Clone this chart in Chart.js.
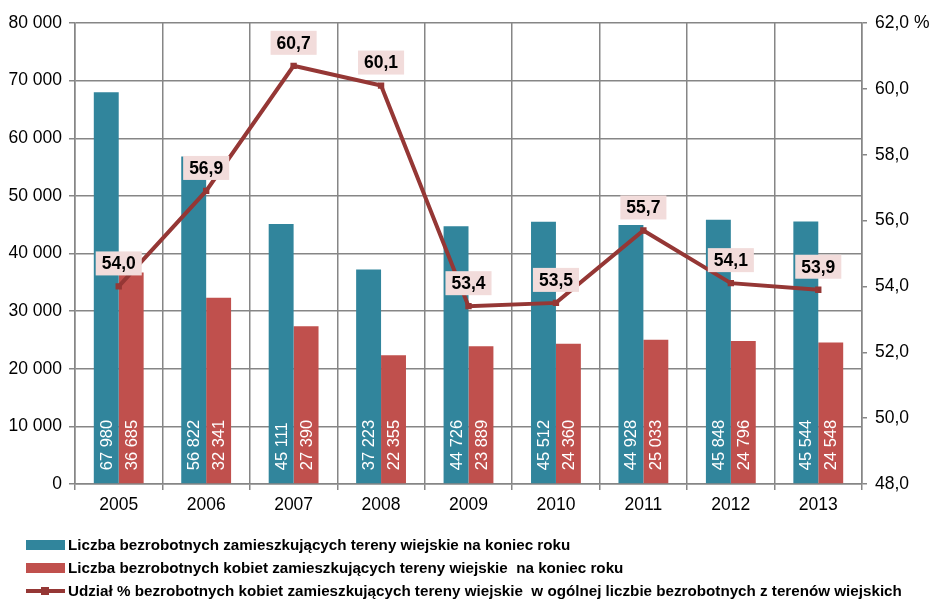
<!DOCTYPE html>
<html>
<head>
<meta charset="utf-8">
<script src="https://cdn.jsdelivr.net/npm/chart.js@4.4.1/dist/chart.umd.min.js"></script>
<style>
  html, body { margin: 0; padding: 0; background: #fff; }
  #wrap { width: 932px; height: 599px; }
</style>
</head>
<body>
<div id="wrap"><canvas id="chart" width="932" height="599"></canvas></div>
<script>
// dane z wykresu
const years = ["2005", "2006", "2007", "2008", "2009", "2010", "2011", "2012", "2013"];
const ogolem = [67980, 56822, 45111, 37223, 44726, 45512, 44928, 45848, 45544];
const kobiety = [36685, 32341, 27390, 22355, 23889, 24360, 25033, 24796, 24548];
const udzial = [54.0, 56.9, 60.7, 60.1, 53.4, 53.5, 55.7, 54.1, 53.9];
const leftTicks = [0, 10000, 20000, 30000, 40000, 50000, 60000, 70000, 80000];
const rightTicks = [48, 50, 52, 54, 56, 58, 60, 62];

const labels = [
  "Liczba bezrobotnych zamieszkujących tereny wiejskie na koniec roku",
  "Liczba bezrobotnych kobiet zamieszkujących tereny wiejskie  na koniec roku",
  "Udział % bezrobotnych kobiet zamieszkujących tereny wiejskie  w ogólnej liczbie bezrobotnych z terenów wiejskich"
];

const TEAL = "#31859c";
const RED = "#c0504d";
const LINE = "#953735";
const FONT = "'Liberation Sans', Arial, sans-serif";

const fmt = (v) => String(v).replace(/\B(?=(\d{3})+(?!\d))/g, "\u00a0");
const fmtPct = (v) => v.toFixed(1).replace(".", ",");

// ---------- etykiety danych ----------
const valueLabels = {
  id: "valueLabels",
  afterDatasetsDraw(chart) {
    const ctx = chart.ctx;
    ctx.save();
    chart.data.datasets.forEach((ds, di) => {
      const meta = chart.getDatasetMeta(di);
      if (ds.type === "bar") {
        ctx.font = "16.5px " + FONT;
        ctx.fillStyle = "#fff";
        ctx.textAlign = "left";
        ctx.textBaseline = "middle";
        meta.data.forEach((el, i) => {
          ctx.save();
          ctx.translate(el.x, el.base - 13);
          ctx.rotate(-Math.PI / 2);
          ctx.fillText(fmt(ds.data[i]), 0, 1);
          ctx.restore();
        });
      } else {
        ctx.font = "bold 17.5px " + FONT;
        ctx.textAlign = "center";
        ctx.textBaseline = "middle";
        meta.data.forEach((el, i) => {
          const txt = fmtPct(ds.data[i]);
          const w = ctx.measureText(txt).width + 12;
          const h = 24;
          const cy = el.y - 23;
          ctx.fillStyle = "#f2dcdb";
          ctx.fillRect(el.x - w / 2, cy - h / 2, w, h);
          ctx.fillStyle = "#000";
          ctx.fillText(txt, el.x, cy + 1);
        });
      }
    });
    ctx.restore();
  }
};

// ---------- legenda (jeden wpis w wierszu) ----------
const rowLegend = {
  id: "rowLegend",
  afterDraw(chart) {
    const ctx = chart.ctx;
    const rows = [545, 568, 591];
    ctx.save();
    ctx.font = "bold 15.2px " + FONT;
    ctx.textAlign = "left";
    ctx.textBaseline = "middle";
    chart.data.datasets.forEach((ds, i) => {
      const y = rows[i];
      if (ds.type === "bar") {
        ctx.fillStyle = ds.backgroundColor;
        ctx.fillRect(26, y - 5, 39, 10);
      } else {
        ctx.strokeStyle = ds.borderColor;
        ctx.lineWidth = 4;
        ctx.beginPath();
        ctx.moveTo(26, y);
        ctx.lineTo(65, y);
        ctx.stroke();
        ctx.fillStyle = ds.borderColor;
        ctx.fillRect(41, y - 4, 8, 8);
      }
      ctx.fillStyle = "#000";
      ctx.fillText(ds.label, 68, y + 1);
    });
    ctx.restore();
  }
};

const ctx = document.getElementById("chart").getContext("2d");
new Chart(ctx, {
  data: {
    labels: years,
    datasets: [
      {
        type: "bar",
        label: labels[0],
        data: ogolem,
        backgroundColor: TEAL,
        yAxisID: "y",
        order: 2,
        categoryPercentage: 0.57,
        barPercentage: 1
      },
      {
        type: "bar",
        label: labels[1],
        data: kobiety,
        backgroundColor: RED,
        yAxisID: "y",
        order: 2,
        categoryPercentage: 0.57,
        barPercentage: 1
      },
      {
        type: "line",
        label: labels[2],
        data: udzial,
        borderColor: LINE,
        backgroundColor: LINE,
        borderWidth: 4,
        pointStyle: "rect",
        pointRadius: 4.5,
        pointBackgroundColor: LINE,
        pointBorderWidth: 0,
        tension: 0,
        yAxisID: "y1",
        order: 1
      }
    ]
  },
  options: {
    responsive: false,
    animation: false,
    layout: { padding: { top: 23, bottom: 75, left: 0, right: 0 } },
    plugins: {
      legend: { display: false },
      tooltip: { enabled: false }
    },
    scales: {
      x: {
        offset: true,
        grid: { color: "#868686", lineWidth: 1.5, offset: true, tickLength: 6 },
        border: { color: "#868686", width: 1.5 },
        ticks: { color: "#000", font: { family: FONT, size: 17.5 }, padding: 5 },
        afterFit: (s) => { s.height = 40; }
      },
      y: {
        position: "left",
        min: 0,
        max: 80000,
        afterBuildTicks: (s) => { s.ticks = leftTicks.map((v) => ({ value: v })); },
        grid: { color: "#868686", lineWidth: 1.5, tickLength: 6 },
        border: { color: "#868686", width: 1.5 },
        ticks: { color: "#000", font: { family: FONT, size: 17.5 }, padding: 7, callback: (v) => fmt(v) },
        afterFit: (s) => { s.width = 75; }
      },
      y1: {
        position: "right",
        min: 48,
        max: 62,
        afterBuildTicks: (s) => { s.ticks = rightTicks.map((v) => ({ value: v })); },
        grid: { drawOnChartArea: false, color: "#868686", lineWidth: 1.5, tickLength: 5 },
        border: { color: "#868686", width: 1.5 },
        ticks: {
          color: "#000",
          font: { family: FONT, size: 17.5 },
          padding: 8,
          callback: (v) => fmtPct(v) + (v === 62 ? " %" : "")
        },
        afterFit: (s) => { s.width = 70; }
      }
    }
  },
  plugins: [valueLabels, rowLegend]
});
</script>
</body>
</html>
